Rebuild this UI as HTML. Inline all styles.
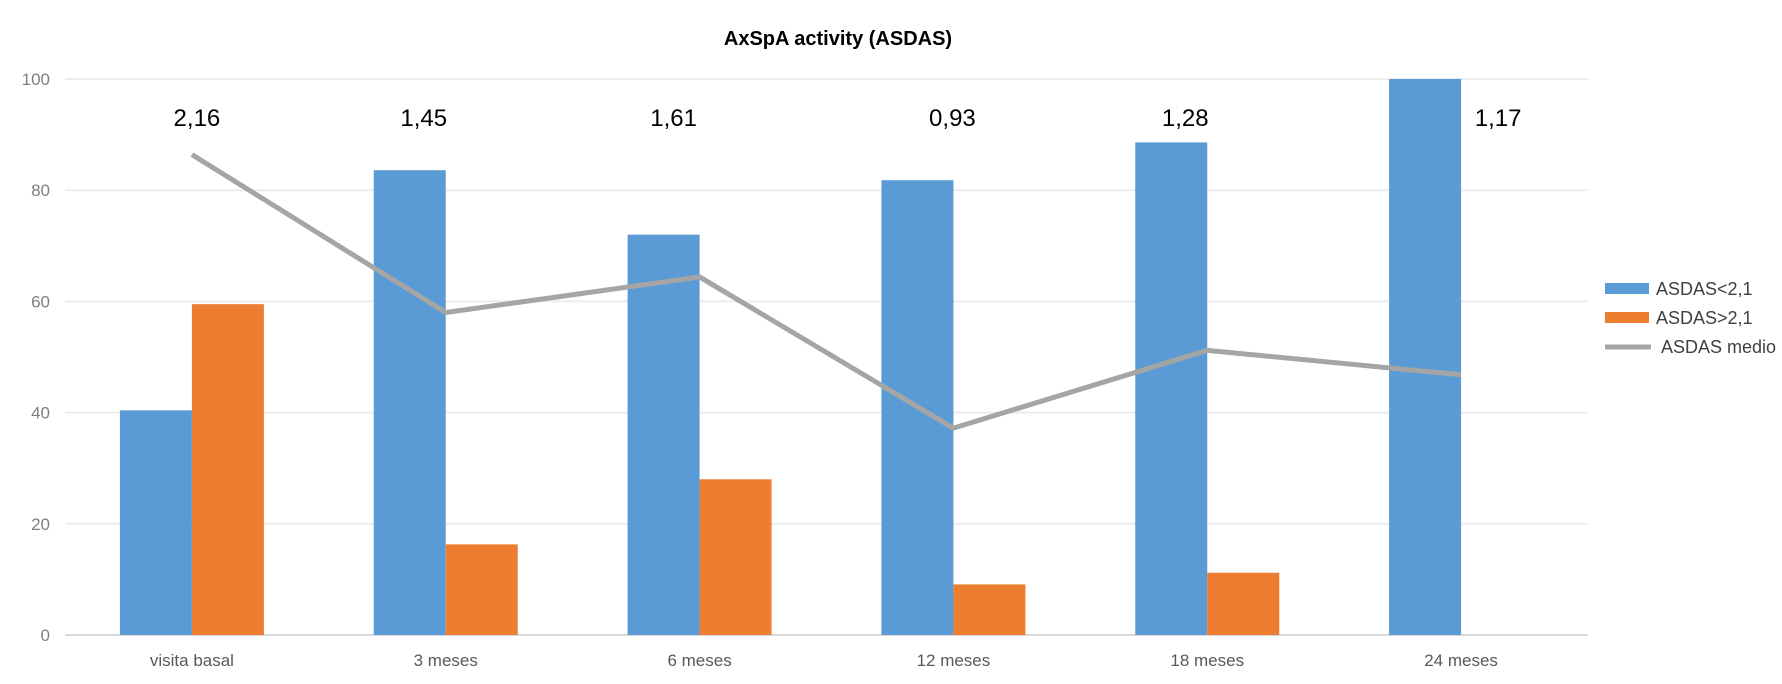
<!DOCTYPE html>
<html><head><meta charset="utf-8"><style>
body{margin:0;background:#fff;}
svg text{font-family:"Liberation Sans",sans-serif;}
</style></head><body>
<svg id="chart" width="1782" height="679" xmlns="http://www.w3.org/2000/svg">
<text x="838" y="45" text-anchor="middle" font-size="20" font-weight="bold" fill="#000">AxSpA activity (ASDAS)</text>
<g id="grid"></g><g id="bars"></g><g id="line"></g><g id="labels"></g>
<g>
<rect x="1605" y="283" width="44" height="11" fill="#5b9bd5"/>
<text x="1656" y="295" font-size="18" fill="#404040">ASDAS&lt;2,1</text>
<rect x="1605" y="312" width="44" height="11" fill="#ed7d31"/>
<text x="1656" y="324" font-size="18" fill="#404040">ASDAS&gt;2,1</text>
<line x1="1605" y1="347" x2="1651" y2="347" stroke="#a5a5a5" stroke-width="5"/>
<text x="1661" y="353" font-size="18" fill="#404040">ASDAS medio</text>
</g>
</svg>
<script>
const categories=["visita basal","3 meses","6 meses","12 meses","18 meses","24 meses"];
const lowValues=[40.4,83.6,72,81.8,88.6,100];
const highValues=[59.5,16.3,28,9.1,11.2,0];
const asdasMean=[2.16,1.45,1.61,0.93,1.28,1.17];
const meanLabels=["2,16","1,45","1,61","0,93","1,28","1,17"];
const yTicks=[0,20,40,60,80,100];
const labelOffsets=[5,-22,-26,-1,-22,37];
const NS="http://www.w3.org/2000/svg";
const L=65,R=1588,Y0=635,Y100=79;
const band=(R-L)/categories.length;
const x=i=>L+band*(i+0.5);
const y=v=>Y0-(Y0-Y100)*v/100;
function mk(tag,attrs,parent){const e=document.createElementNS(NS,tag);for(const k in attrs)e.setAttribute(k,attrs[k]);document.getElementById(parent).appendChild(e);return e;}
yTicks.forEach(t=>{
 const l=mk('line',{x1:L,x2:R,y1:y(t),y2:y(t),stroke:t===0?'#d9d9d9':'#ececec','stroke-width':2},'grid');
 
 
 const tx=mk('text',{x:50,y:y(t)+6,'text-anchor':'end','font-size':17,fill:'#7f7f7f'},'grid');tx.textContent=t;
 
 
});
const bw=72;
categories.forEach((c,i)=>{
 const b1=mk('rect',{x:x(i)-bw,y:y(lowValues[i]),width:bw,height:Y0-y(lowValues[i]),fill:'#5b9bd5'},'bars');
 
 
 const b2=mk('rect',{x:x(i),y:y(highValues[i]),width:bw,height:Y0-y(highValues[i]),fill:'#ed7d31'},'bars');
 
 
 const t=mk('text',{x:x(i),y:666,'text-anchor':'middle','font-size':17,fill:'#595959'},'labels');t.textContent=c;
 
 
 const v=mk('text',{x:x(i)+labelOffsets[i],y:126,'text-anchor':'middle','font-size':24,fill:'#000'},'labels');v.textContent=meanLabels[i];
 
 
});
const pts=asdasMean.map((m,i)=>x(i)+','+y(m*40)).join(' ');
const pl=mk('polyline',{points:pts,fill:'none',stroke:'#a5a5a5','stroke-width':5,'stroke-linejoin':'round'},'line');


</script>
</body></html>
